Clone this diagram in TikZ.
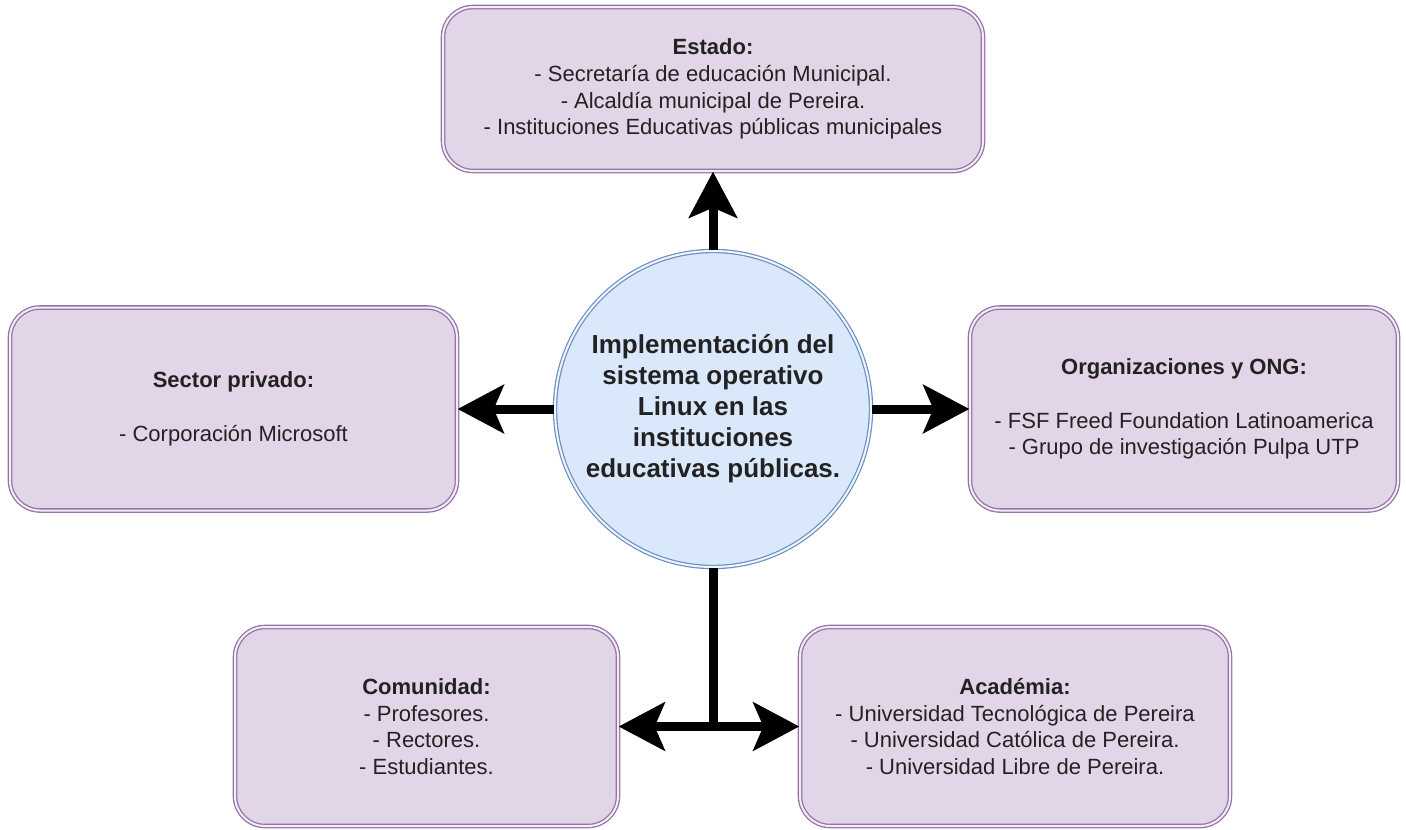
\documentclass[tikz,border=0pt]{standalone}
\usepackage{fontspec}
\setmainfont{Liberation Sans}
\usetikzlibrary{arrows.meta}
\definecolor{boxfill}{HTML}{E1D5E7}
\definecolor{boxline}{HTML}{9673A6}
\definecolor{circfill}{HTML}{DAE8FC}
\definecolor{circline}{HTML}{6C8EBF}
\definecolor{txt}{HTML}{222222}
\tikzset{
  actor/.style={rectangle, rounded corners=30pt, fill=boxfill, draw=boxline,
    line width=1.3pt, double=white!60!boxfill, double distance=2pt,
    align=center, font=\fontsize{22}{26.7}\selectfont, text=txt, inner sep=0pt},
  hub/.style={circle, fill=circfill, draw=circline, line width=1.2pt,
    double=white!60!circfill, double distance=2pt, minimum size=316pt,
    align=center, font=\bfseries\fontsize{26}{31}\selectfont, text=txt, inner sep=0pt},
  link/.style={line width=9pt, -{Stealth[length=46pt,width=48pt,inset=10pt]}},
  bar/.style={line width=9pt},
}
\begin{document}
\begin{tikzpicture}[x=1pt,y=-1pt]
\useasboundingbox (0,0) rectangle (1406,830);
\node[hub] (hub) at (713,409) {Implementación del\\sistema operativo\\Linux en las\\instituciones\\educativas públicas.};
\node[actor, minimum width=540pt, minimum height=164pt] (estado) at (713,89)
  {\textbf{Estado:}\\- Secretaría de educación Municipal.\\- Alcaldía municipal de Pereira.\\- Instituciones Educativas públicas municipales};
\node[actor, minimum width=447pt, minimum height=203pt] (privado) at (233.5,409)
  {\textbf{Sector privado:}\\[26.7pt]- Corporación Microsoft};
\node[actor, minimum width=428pt, minimum height=203pt] (ong) at (1184,409)
  {\textbf{Organizaciones y ONG:}\\[26.7pt]- FSF Freed Foundation Latinoamerica\\- Grupo de investigación Pulpa UTP};
\node[actor, minimum width=383pt, minimum height=199pt] (comunidad) at (426.5,726.5)
  {\textbf{Comunidad:}\\- Profesores.\\- Rectores.\\- Estudiantes.};
\node[actor, minimum width=430pt, minimum height=199pt] (academia) at (1015,726.5)
  {\textbf{Académia:}\\- Universidad Tecnológica de Pereira\\- Universidad Católica de Pereira.\\- Universidad Libre de Pereira.};
\coordinate (j) at (hub.south |- comunidad.east);
\draw[link] (hub.north) -- (estado.south);
\draw[link] (hub.west) -- (privado.east);
\draw[link] (hub.east) -- (ong.west);
\draw[bar] (hub.south) -- (j);
\draw[link] (j) -- (comunidad.east);
\draw[link] (j) -- (academia.west);
\end{tikzpicture}
\end{document}
